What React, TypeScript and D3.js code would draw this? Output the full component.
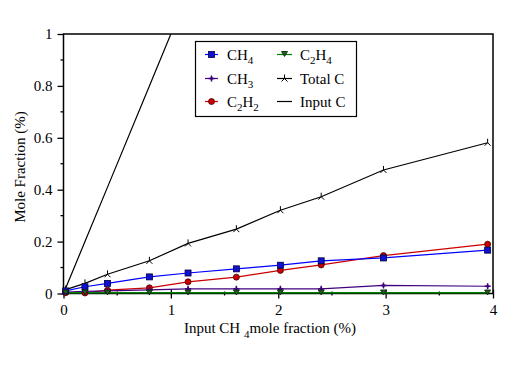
import React, { useEffect, useRef } from 'react';
import * as d3 from 'd3';

// input CH4 mole fraction (%)
const inputCH4 = [0.02, 0.2, 0.41, 0.8, 1.16, 1.61, 2.02, 2.4, 2.98, 3.95];
const ch4 = [0.01, 0.026, 0.039, 0.064, 0.079, 0.095, 0.109, 0.126, 0.137, 0.167];
const ch3 = [0.005, 0.008, 0.01, 0.014, 0.018, 0.018, 0.018, 0.018, 0.031, 0.028];
const c2h2 = [0.003, 0.002, 0.013, 0.022, 0.045, 0.063, 0.089, 0.11, 0.146, 0.19];
const c2h4 = [0.002, 0.002, 0.002, 0.002, 0.002, 0.002, 0.002, 0.002, 0.002, 0.002];
const totalC = [0.015, 0.039, 0.074, 0.126, 0.193, 0.248, 0.321, 0.373, 0.476, 0.581];
const inputC = [0.02, 0.2, 0.41, 0.8, 1.16, 1.61, 2.02, 2.4, 2.98, 3.95];

const xTicks = [0, 1, 2, 3, 4];
const xMinor = [0.5, 1.5, 2.5, 3.5];
const yTicks = [0, 0.2, 0.4, 0.6, 0.8, 1];
const yMinor = [0.1, 0.3, 0.5, 0.7, 0.9];

const W = 507, H = 369;
const serif = "'Liberation Serif', 'DejaVu Serif', serif";

type Series = { name: string; values: number[]; color: string; marker: string; markers: boolean };

const series: Series[] = [
  { name: 'CH4', values: ch4, color: '#0000ff', marker: 'square', markers: true },
  { name: 'CH3', values: ch3, color: '#400080', marker: 'plus', markers: true },
  { name: 'C2H2', values: c2h2, color: '#cc0000', marker: 'circle', markers: true },
  { name: 'C2H4', values: c2h4, color: '#008000', marker: 'tri', markers: true },
  { name: 'Total C', values: totalC, color: '#000000', marker: 'star', markers: true },
  { name: 'Input C', values: inputC, color: '#000000', marker: 'none', markers: false },
];

function drawMarker(g: any, kind: string, cx: number, cy: number, color: string) {
  if (kind === 'square') {
    g.append('rect').attr('x', cx - 3).attr('y', cy - 3).attr('width', 6).attr('height', 6)
      .attr('fill', '#1010d0').attr('stroke', '#000040').attr('stroke-width', 0.8);
  } else if (kind === 'circle') {
    g.append('circle').attr('cx', cx).attr('cy', cy).attr('r', 3)
      .attr('fill', '#cc0000').attr('stroke', '#400000').attr('stroke-width', 0.8);
  } else if (kind === 'tri') {
    g.append('path').attr('d', `M${cx - 3},${cy - 3}L${cx + 3},${cy - 3}L${cx},${cy + 2}Z`)
      .attr('fill', '#206020').attr('stroke', '#002000').attr('stroke-width', 0.8);
  } else if (kind === 'plus') {
    g.append('path').attr('d', `M${cx - 3},${cy}L${cx + 3},${cy}M${cx},${cy - 3}L${cx},${cy + 3}`)
      .attr('stroke', color).attr('stroke-width', 1.5);
    g.append('path').attr('d', `M${cx},${cy - 2}L${cx + 2},${cy}L${cx},${cy + 2}L${cx - 2},${cy}Z`).attr('fill', color);
  } else if (kind === 'star') {
    g.append('path').attr('d', `M${cx},${cy - 4}L${cx},${cy}M${cx},${cy}L${cx - 3},${cy + 3}M${cx},${cy}L${cx + 3},${cy + 3}`)
      .attr('stroke', color).attr('stroke-width', 1).attr('fill', 'none');
  }
}

// text with subscript parts: [string, isSub]
function richText(t: any, parts: [string, number][], size: number, subSize: number, drop: number) {
  let cur = 0;
  parts.forEach(([str, sub]) => {
    const target = sub ? drop : 0;
    t.append('tspan').text(str)
      .style('font-size', `${sub ? subSize : size}px`)
      .attr('dy', target - cur);
    cur = target;
  });
}

const App = () => {
  const ref = useRef<SVGSVGElement>(null);

  useEffect(() => {
    const svg = d3.select(ref.current);
    svg.selectAll('*').remove();

    const left = 63.5, right = 493, top = 34, bottom = 293.5;
    const x = d3.scaleLinear().domain([0, 4]).range([left, right]);
    const y = d3.scaleLinear().domain([0, 1]).range([bottom, top]);

    svg.append('rect').attr('width', W).attr('height', H).attr('fill', '#fff');

    svg.append('clipPath').attr('id', 'plotclip')
      .append('rect').attr('x', left).attr('y', top).attr('width', right - left).attr('height', bottom - top);

    // frame
    svg.append('rect').attr('x', left).attr('y', top).attr('width', right - left).attr('height', bottom - top)
      .attr('fill', 'none').attr('stroke', '#000').attr('stroke-width', 1.5);

    // y axis
    const ya = svg.append('g').attr('transform', `translate(${left},0)`)
      .call(d3.axisLeft(y).tickValues(yTicks).tickSize(6).tickPadding(5)
        .tickFormat((d: any) => (d === 0 || d === 1 ? String(d) : d3.format('.1f')(d))));
    ya.select('.domain').remove();
    ya.selectAll('line').attr('stroke-width', 1.3);
    ya.selectAll('text').style('font-family', serif).style('font-size', '15px').attr('fill', '#000');
    yMinor.forEach(v => {
      svg.append('line').attr('x1', left - 3).attr('x2', left).attr('y1', y(v)).attr('y2', y(v))
        .attr('stroke', '#000').attr('stroke-width', 1.3);
    });

    // x axis
    const xa = svg.append('g').attr('transform', `translate(0,${bottom})`)
      .call(d3.axisBottom(x).tickValues(xTicks).tickSizeInner(5).tickSizeOuter(0).tickPadding(6)
        .tickFormat((d: any) => String(d)));
    xa.select('.domain').remove();
    xa.selectAll('line').attr('y1', -4).attr('stroke-width', 1.3);
    xa.selectAll('text').style('font-family', serif).style('font-size', '15px').attr('fill', '#000');
    xMinor.forEach(v => {
      svg.append('line').attr('x1', x(v)).attr('x2', x(v)).attr('y1', bottom - 2).attr('y2', bottom + 2)
        .attr('stroke', '#000').attr('stroke-width', 1.3);
    });

    // series
    const plot = svg.append('g').attr('clip-path', 'url(#plotclip)');
    const line = d3.line<number>().x((_, i) => x(inputCH4[i])).y(d => y(d));
    const order = [5, 4, 2, 0, 1, 3];
    order.forEach(k => {
      const s = series[k];
      plot.append('path').datum(s.values).attr('d', line).attr('fill', 'none')
        .attr('stroke', s.color).attr('stroke-width', s.marker === 'tri' ? 2.2 : 1.2);
    });
    const mk = svg.append('g');
    order.forEach(k => {
      const s = series[k];
      if (!s.markers) return;
      s.values.forEach((v, i) => drawMarker(mk, s.marker, x(inputCH4[i]), y(v), s.color));
    });

    // legend
    const lg = svg.append('g');
    lg.append('rect').attr('x', 195.5).attr('y', 41.5).attr('width', 161).attr('height', 75)
      .attr('fill', '#fff').attr('stroke', '#000').attr('stroke-width', 1.2);
    const rows = [54.5, 78.5, 101.5];
    const entries: { s: number; col: number; row: number; parts: [string, number][] }[] = [
      { s: 0, col: 0, row: 0, parts: [['CH', 0], ['4', 1]] },
      { s: 1, col: 0, row: 1, parts: [['CH', 0], ['3', 1]] },
      { s: 2, col: 0, row: 2, parts: [['C', 0], ['2', 1], ['H', 0], ['2', 1]] },
      { s: 3, col: 1, row: 0, parts: [['C', 0], ['2', 1], ['H', 0], ['4', 1]] },
      { s: 4, col: 1, row: 1, parts: [['Total C', 0]] },
      { s: 5, col: 1, row: 2, parts: [['Input C', 0]] },
    ];
    const cols = [{ x1: 205, x2: 218, tx: 227 }, { x1: 277, x2: 292, tx: 300 }];
    entries.forEach(e => {
      const s = series[e.s];
      const c = cols[e.col];
      const cy = rows[e.row];
      lg.append('line').attr('x1', c.x1).attr('x2', c.x2).attr('y1', cy).attr('y2', cy)
        .attr('stroke', s.color).attr('stroke-width', 1.2);
      if (s.markers) drawMarker(lg, s.marker, (c.x1 + c.x2) / 2, cy, s.color);
      const t = lg.append('text').attr('x', c.tx).attr('y', cy + 5)
        .style('font-family', serif).style('font-size', '15px').attr('fill', '#000');
      richText(t, e.parts, 15, 11, 4);
    });

    // axis titles
    const xt = svg.append('text').attr('x', 270).attr('y', 333).attr('text-anchor', 'middle')
      .style('font-family', serif).style('font-size', '15px').attr('fill', '#000');
    richText(xt, [['Input CH ', 0], ['4', 1], ['mole fraction (%)', 0]], 15, 11, 5);

    svg.append('text').attr('transform', 'translate(25,167) rotate(-90)').attr('text-anchor', 'middle')
      .style('font-family', serif).style('font-size', '15px').attr('fill', '#000')
      .text('Mole Fraction (%)');
  }, []);

  return (
    <div style={{ position: 'fixed', left: 0, top: 0 }}>
      <svg ref={ref} width={W} height={H} style={{ display: 'block' }} />
    </div>
  );
};

export default App;
